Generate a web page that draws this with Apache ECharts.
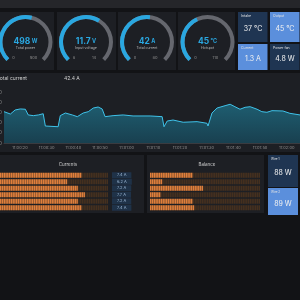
<!DOCTYPE html>
<html lang="en">
<head>
<meta charset="UTF-8">
<title>Power dashboard</title>
<script src="https://cdn.jsdelivr.net/npm/echarts@6/dist/echarts.min.js"></script>
<style>
    html, body { margin: 0; padding: 0; background: #121316; }
    #main { width: 300px; height: 300px; }
</style>
</head>
<body>
<div id="main"></div>
<script>
    // gauges
    var gaugeNames = ['Total power', 'Input voltage', 'Total current', 'Hotspot'];
    var gaugeValues = [498, 11.7, 42, 45];
    var gaugeUnits = ['W', 'V', 'A', '°C'];
    var gaugeMin = [0, 8, 0, 0];
    var gaugeMax = [900, 14, 80, 110];

    // stat tiles
    var statNames = ['Intake', 'Output', 'Current', 'Power fan'];
    var statValues = ['37 °C', '45 °C', '1.3 A', '4.8 W'];

    // total current, seconds after 11:00:00
    var timeSec = [14, 16.4, 18.2, 20.1, 22, 23.1, 25, 26.9, 28.7, 29.5, 34.3, 35.1, 37, 39.6, 41.5, 43.7, 45.6, 47.5, 49.3, 50.8,
        51.9, 54.9, 58.7, 62.4, 68.8, 73.3, 74, 75.2, 77.4, 81.2, 86.4, 90.1, 90.5, 92, 93.9, 96.9, 98.8, 100.6, 102.5, 104.4,
        106.3, 108.9, 110.7, 112.6, 114.5, 118.6, 121.2, 125];
    var totalCurrent = [30.8, 28.5, 32.5, 33.5, 33.2, 27.6, 26.9, 27.6, 28.8, 16.7, 16.0, 26.9, 29.5, 27.6, 25.9, 29.5, 30.8, 34.4, 35.4, 33.5,
        25.9, 26.9, 27.6, 26.6, 26.6, 25.9, 16.0, 21.6, 22.6, 20.4, 21.0, 19.4, 16.7, 29.5, 34.4, 36.7, 38.1, 35.7, 33.2, 35.1,
        35.7, 33.2, 30.8, 30.2, 31.8, 31.5, 29.2, 27.6];
    var currentNow = '42.4 A';

    // wires
    var wireIds = ['1', '2', '3', '4', '5', '6'];
    var currents = [7.4, 6.2, 7.2, 7.7, 7.2, 7.4];
    var balance = [38, 10, 47, 9, 38, 39];
    var wireNames = ['Wire 1', 'Wire 2'];
    var wireValues = ['88 W', '89 W'];

    var FONT = 'Inter';
    var BLUE = '#2aa7e0';
    var PANEL = '#1d1f24';
    var DARK_TILE = '#1f3552';
    var LIGHT_TILE = '#5b8fdc';

    function box(x, y, w, h, color) {
        return { type: 'rect', z: 0, shape: { x: x, y: y, width: w, height: h }, style: { fill: color } };
    }
    function txt(x, y, s, size, color, align) {
        return {
            type: 'text', z: 10, x: x, y: y,
            style: { text: s, fill: color, fontSize: size, fontFamily: FONT, textAlign: align || 'left', textVerticalAlign: 'middle' }
        };
    }
    function pad2(n) { return (n < 10 ? '0' : '') + n; }

    var graphics = [];
    graphics.push(box(0, 0, 300, 8, '#25262a'));

    // gauge panels
    var gx = [-4, 57, 118, 178], gw = [58, 59, 58, 57];
    var gcx = [25.5, 86, 147, 207.5];
    var gcy = 42;
    for (var i = 0; i < 4; i++) {
        graphics.push(box(gx[i], 12, gw[i], 58, PANEL));
        graphics.push(txt(gcx[i] - 12, 57.5, String(gaugeMin[i]), 4, '#8c8c8c', 'center'));
        graphics.push(txt(gcx[i] + 8, 57.5, String(gaugeMax[i]), 4, '#8c8c8c', 'center'));
    }

    // stat tiles
    var sx = [238, 270, 238, 270], sy = [12, 12, 44, 44], sh = [30, 30, 26, 26];
    var sc = [DARK_TILE, LIGHT_TILE, LIGHT_TILE, DARK_TILE];
    for (var i = 0; i < 4; i++) {
        graphics.push(box(sx[i], sy[i], 29.5, sh[i], sc[i]));
        graphics.push(txt(sx[i] + 3, sy[i] + 4, statNames[i], 3.5, '#e4e4e4'));
        graphics.push(txt(sx[i] + 15, sy[i] + sh[i] / 2 + 2, statValues[i], 7, '#f2f2f2', 'center'));
    }

    // time series panel
    graphics.push(box(0, 73, 300, 79, PANEL));
    graphics.push(txt(-3, 78, 'Total current', 5, '#d0d0d0'));
    graphics.push(txt(64, 78, currentNow, 5, '#d0d0d0'));

    // bar panels
    graphics.push(box(0, 155, 144, 58, PANEL));
    graphics.push(txt(68, 165, 'Currents', 4.5, '#d0d0d0', 'center'));
    graphics.push(box(147, 155, 117, 58, PANEL));
    graphics.push(txt(207, 165, 'Balance', 4.5, '#d0d0d0', 'center'));

    // wire tiles
    var wy = [155, 188], wh = [32, 27], wc = [DARK_TILE, LIGHT_TILE];
    for (var i = 0; i < 2; i++) {
        graphics.push(box(268, wy[i], 30, wh[i], wc[i]));
        graphics.push(txt(271, wy[i] + 4, wireNames[i], 3, '#e4e4e4'));
        graphics.push(txt(283, wy[i] + wh[i] / 2 + 2, wireValues[i], 7, '#f2f2f2', 'center'));
    }

    var series = [];
    for (var i = 0; i < 4; i++) {
        (function (k) {
            series.push({
                type: 'gauge',
                center: [gcx[k], gcy],
                radius: 27,
                startAngle: 225,
                endAngle: -45,
                min: gaugeMin[k],
                max: gaugeMax[k],
                progress: { show: true, width: 4, itemStyle: { color: BLUE } },
                axisLine: { lineStyle: { width: 4, color: [[1, '#65676e']] } },
                pointer: { show: false },
                anchor: { show: false },
                axisTick: { show: false },
                splitLine: { show: false },
                axisLabel: { show: false },
                title: { offsetCenter: [0, '22%'], fontSize: 3.5, color: '#bdbdbd', fontFamily: FONT },
                detail: {
                    offsetCenter: [0, '-2%'],
                    formatter: function (v) { return '{v|' + v + '}{u| ' + gaugeUnits[k] + '}'; },
                    rich: {
                        v: { fontSize: 8.5, color: BLUE, fontFamily: FONT },
                        u: { fontSize: 5.5, color: BLUE, fontFamily: FONT }
                    }
                },
                data: [{ value: gaugeValues[k], name: gaugeNames[k] }]
            });
        })(i);
    }

    series.push({
        type: 'line',
        xAxisIndex: 0,
        yAxisIndex: 0,
        showSymbol: false,
        lineStyle: { color: '#3fc3ea', width: 1 },
        areaStyle: {
            color: new echarts.graphic.LinearGradient(0, 0, 0, 1, [
                { offset: 0, color: '#1f7891' },
                { offset: 1, color: '#174e62' }
            ])
        },
        data: timeSec.map(function (t, i) { return [t, totalCurrent[i]]; })
    });

    function lcdTrack(xi, max, label) {
        return {
            type: 'pictorialBar',
            xAxisIndex: xi, yAxisIndex: xi,
            symbol: 'rect',
            symbolRepeat: true,
            symbolSize: [1.5, 5],
            symbolMargin: 0.15,
            itemStyle: { color: '#45301f' },
            label: label,
            data: wireIds.map(function () { return max; })
        };
    }
    function lcdFill(xi, vals) {
        return {
            type: 'pictorialBar',
            xAxisIndex: xi, yAxisIndex: xi,
            symbol: 'rect',
            symbolRepeat: true,
            symbolSize: [1.5, 5],
            symbolMargin: 0.15,
            itemStyle: { color: '#df7f3c' },
            z: 3,
            data: vals
        };
    }
    series.push(lcdTrack(1, 10, {
        show: true, position: 'right', distance: 4,
        formatter: function (p) { return currents[p.dataIndex].toFixed(1) + ' A'; },
        color: '#9db8d6', fontSize: 4, fontFamily: FONT,
        backgroundColor: '#1f3248', padding: [1, 5]
    }));
    series.push(lcdFill(1, currents));
    series.push(lcdTrack(2, 100, { show: false }));
    series.push(lcdFill(2, balance));

    var chart = echarts.init(document.getElementById('main'));
    chart.setOption({
        animation: false,
        backgroundColor: '#121316',
        graphic: graphics,
        grid: [
            { left: 4, right: 0, top: 82, bottom: 157, outerBoundsMode: 'none' },
            { left: 0, right: 192, top: 172, height: 39, outerBoundsMode: 'none' },
            { left: 150, right: 40, top: 172, height: 39, outerBoundsMode: 'none' }
        ],
        xAxis: [
            {
                type: 'value', gridIndex: 0, min: 14, max: 125, splitNumber: 11,
                axisLine: { lineStyle: { color: '#3a3b40' } },
                axisTick: { show: false },
                splitLine: { show: false },
                axisLabel: {
                    showMinLabel: false, showMaxLabel: false, margin: 3,
                    color: '#8d8d8d', fontSize: 4, fontFamily: FONT,
                    formatter: function (t) { return '11:' + pad2(Math.floor(t / 60)) + ':' + pad2(t % 60); }
                }
            },
            { type: 'value', gridIndex: 1, min: 0, max: 10, show: false },
            { type: 'value', gridIndex: 2, min: 0, max: 100, show: false }
        ],
        yAxis: [
            {
                type: 'value', gridIndex: 0, min: 0, max: 60, interval: 10,
                axisLine: { show: false }, axisTick: { show: false }, splitLine: { show: false },
                axisLabel: { showMaxLabel: false, margin: 2, color: '#8d8d8d', fontSize: 5, fontFamily: FONT }
            },
            { type: 'category', gridIndex: 1, inverse: true, data: wireIds, show: false },
            { type: 'category', gridIndex: 2, inverse: true, data: wireIds, show: false }
        ],
        series: series
    });
</script>
</body>
</html>
